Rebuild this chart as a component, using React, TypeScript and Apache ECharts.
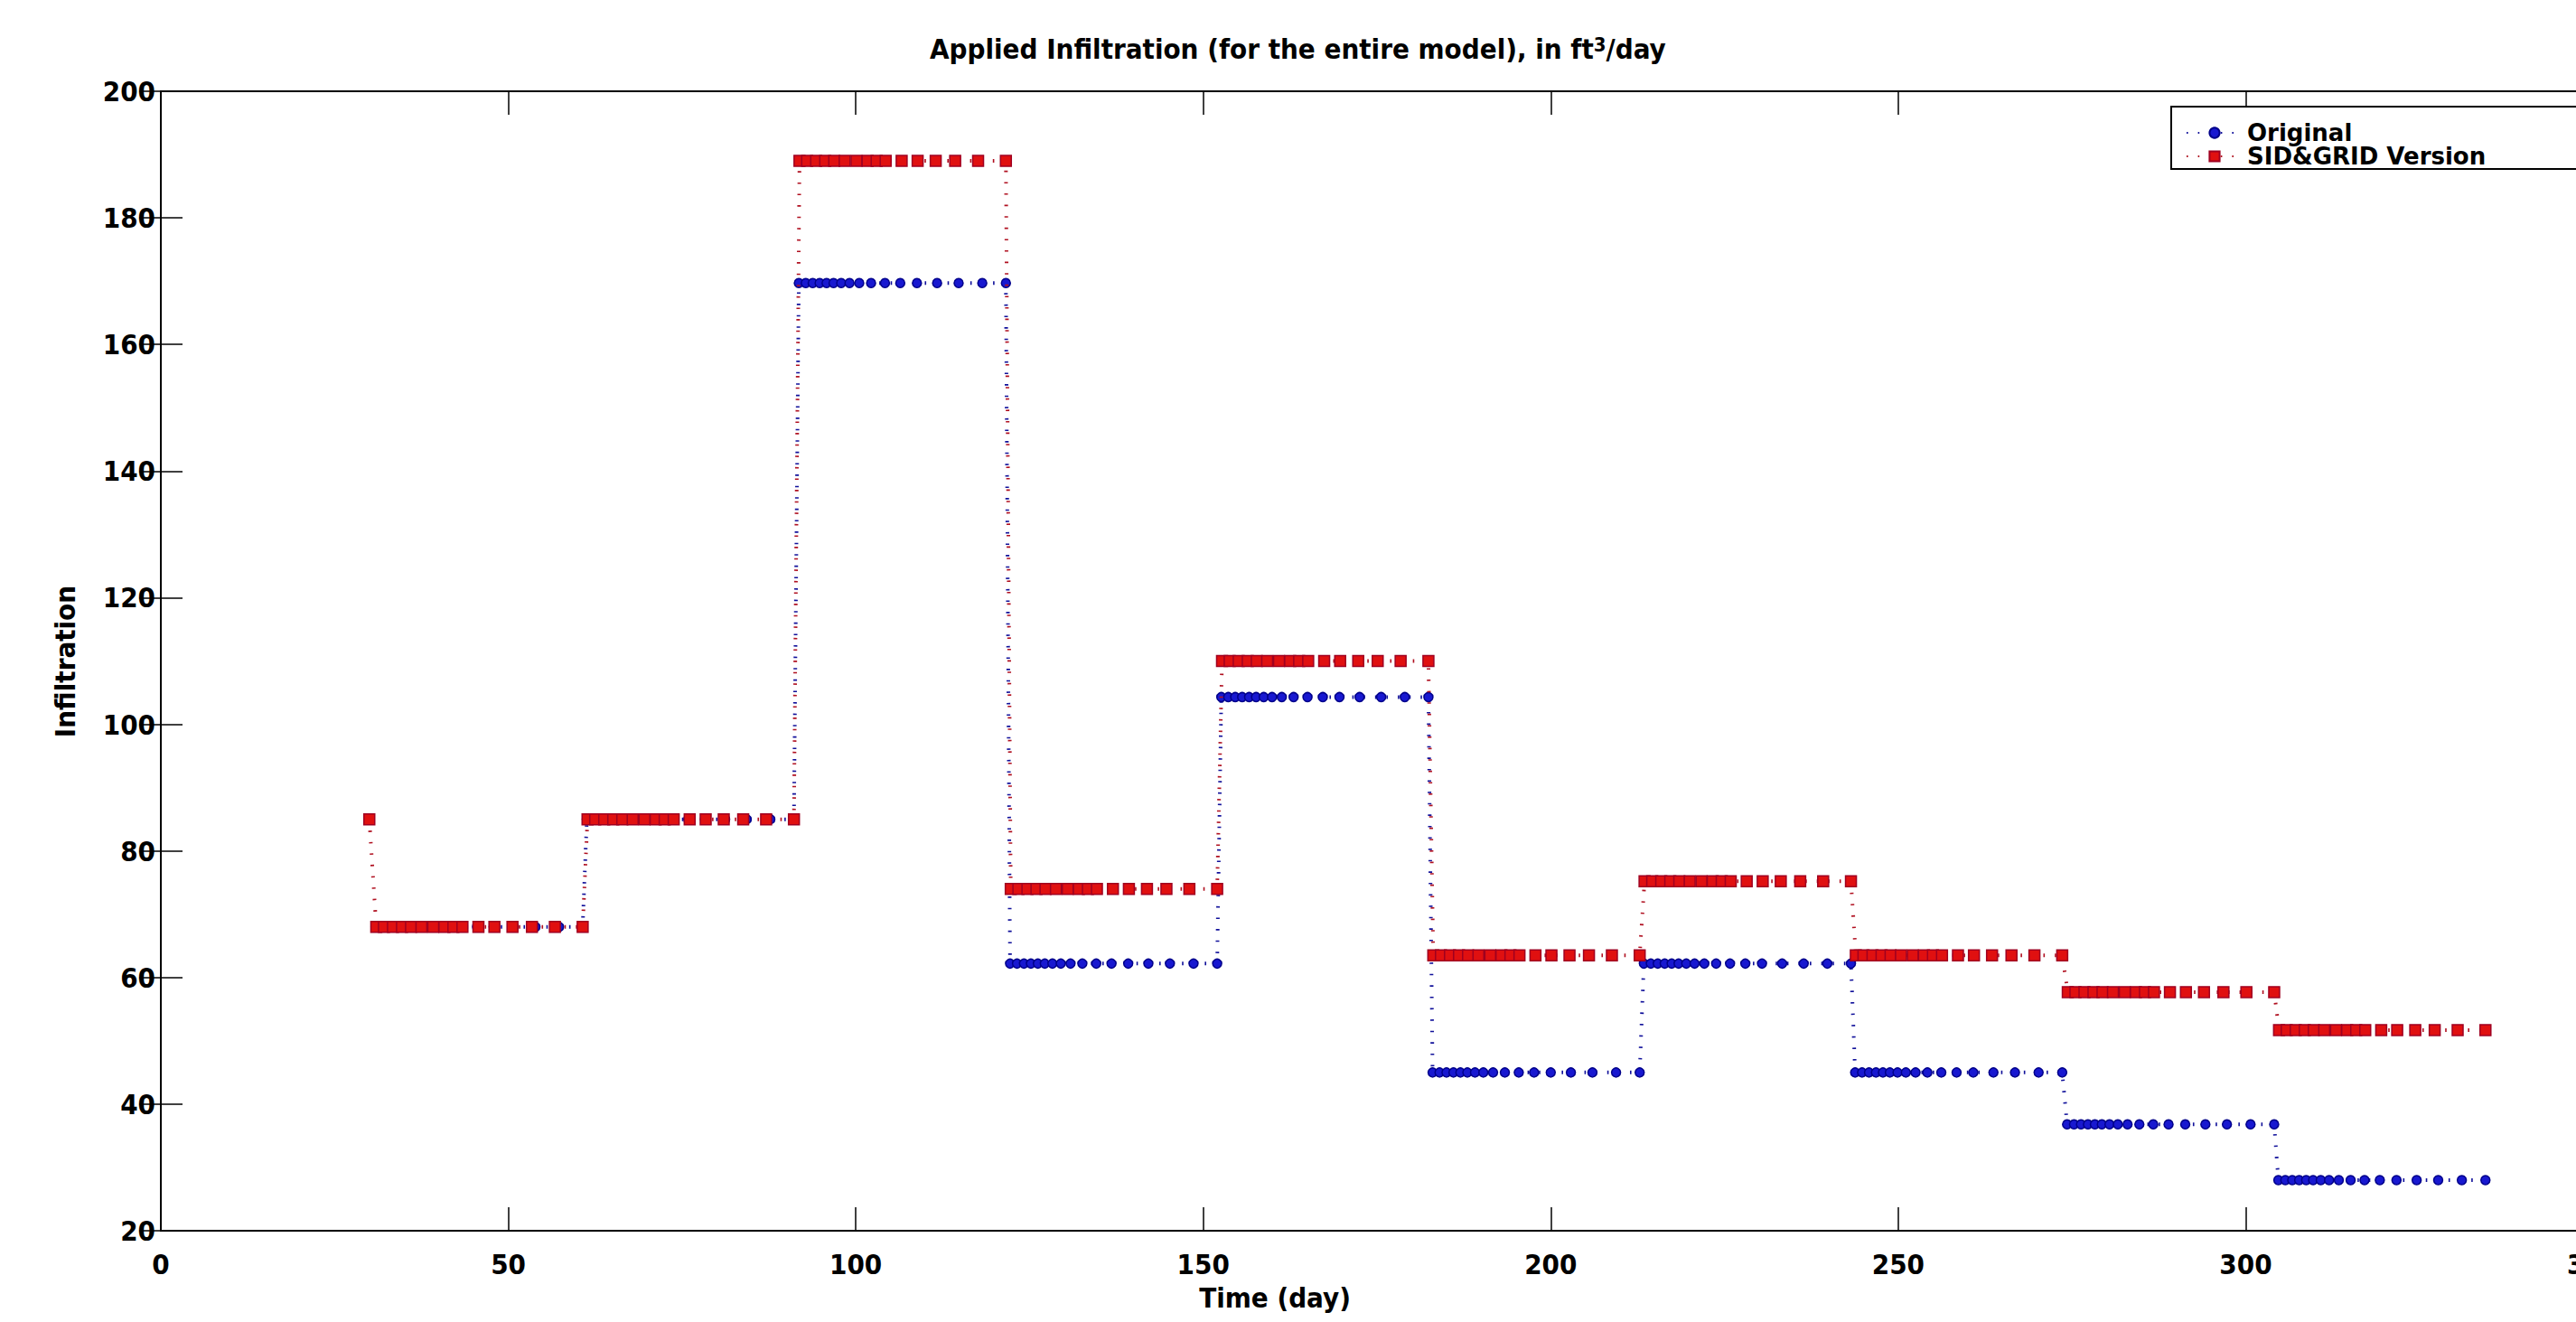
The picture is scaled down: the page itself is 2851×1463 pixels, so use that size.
import React, { useEffect, useRef } from "react";
import * as echarts from "echarts";

// Stress-period start times (days)
const periodStarts = [30.4, 60.8, 91.3, 121.7, 152.1, 182.5, 212.9, 243.3, 273.8, 304.2];
// Time-step offsets (days after each period start)
const originalStepOffsets = [0.5, 1.5, 2.5, 3.5, 4.5, 5.5, 6.6, 7.8, 9.2, 10.9, 12.9, 15.1, 17.5, 20.4, 23.5, 26.9, 30.3];
const sidGridStepOffsets = [0.6, 1.7, 3.0, 4.3, 5.6, 7.1, 8.8, 10.4, 11.7, 13.0, 15.3, 17.6, 20.2, 23.0, 26.3, 30.3];
// Infiltration per stress period (ft^3/day)
const originalValues = [68, 85, 169.7, 62.2, 104.3, 45, 62.2, 45, 36.8, 28];
const sidGridValues = [68, 85, 189, 74, 110, 63.5, 75.2, 63.5, 57.7, 51.7];
const sidGridInitialTime = 30.0;
const sidGridInitialValue = 85;

const xTickValues = [0, 50, 100, 150, 200, 250, 300, 350];
const yTickValues = [20, 40, 60, 80, 100, 120, 140, 160, 180, 200];

const FONT = "'Liberation Sans Narrow', 'DejaVu Sans Condensed', 'Liberation Sans', sans-serif";
const LEGEND_FONT = "'DejaVu Sans', 'Liberation Sans', sans-serif";

function buildSeries(starts: number[], offsets: number[], values: number[]) {
  const pts: number[][] = [];
  starts.forEach((s, k) => {
    offsets.forEach((o) => pts.push([s + o, values[k]]));
  });
  return pts;
}

export default function App() {
  const ref = useRef<HTMLDivElement>(null);
  useEffect(() => {
    if (!ref.current) return;
    const chart = echarts.init(ref.current, null, { renderer: "svg" });
    const originalData = buildSeries(periodStarts, originalStepOffsets, originalValues);
    const sidData = [[sidGridInitialTime, sidGridInitialValue], ...buildSeries(periodStarts, sidGridStepOffsets, sidGridValues)];

    const axisLine = { show: true, lineStyle: { color: "#000", width: 2 } };
    const tickStyle = { color: "#000", width: 1.5 };
    chart.setOption({
      animation: false,
      backgroundColor: "#ffffff",
      textStyle: { fontFamily: FONT },
      title: {
        text: "Applied Infiltration (for the entire model), in ft{sup|3}/day",
        left: 1024,
        top: 33,
        textStyle: {
          fontFamily: FONT,
          fontSize: 31,
          fontWeight: "bold",
          color: "#000",
          rich: {
            sup: { fontFamily: FONT, fontSize: 22, fontWeight: "bold", color: "#000", verticalAlign: "top", lineHeight: 16, padding: [0, 0, 16, 0] },
          },
        },
      },
      grid: { left: 178, top: 101, width: 2692, height: 1261, containLabel: false, outerBoundsMode: "none" },
      xAxis: [
        {
          type: "value",
          position: "bottom",
          min: xTickValues[0],
          max: xTickValues[xTickValues.length - 1],
          interval: 50,
          axisLine,
          axisTick: { show: true, inside: true, length: 26, lineStyle: tickStyle },
          axisLabel: { show: true, color: "#000", fontFamily: FONT, fontSize: 31, fontWeight: "bold", margin: 21 },
          splitLine: { show: false },
        },
        {
          type: "value",
          position: "top",
          min: xTickValues[0],
          max: xTickValues[xTickValues.length - 1],
          interval: 50,
          axisLine,
          axisTick: { show: true, inside: true, length: 26, lineStyle: tickStyle },
          axisLabel: { show: false },
          splitLine: { show: false },
        },
      ],
      yAxis: [
        {
          type: "value",
          position: "left",
          min: yTickValues[0],
          max: yTickValues[yTickValues.length - 1],
          interval: 20,
          axisLine,
          axisTick: { show: true, inside: true, length: 24, lineStyle: tickStyle },
          axisLabel: { show: true, color: "#000", fontFamily: FONT, fontSize: 31, fontWeight: "bold", margin: 6 },
          splitLine: { show: false },
        },
        {
          type: "value",
          position: "right",
          min: yTickValues[0],
          max: yTickValues[yTickValues.length - 1],
          interval: 20,
          axisLine,
          axisTick: { show: true, inside: true, length: 24, lineStyle: tickStyle },
          axisLabel: { show: false },
          splitLine: { show: false },
        },
      ],
      legend: {
        left: 2414,
        top: 129,
        orient: "vertical",
        itemGap: 0,
        itemWidth: 62,
        itemHeight: 14,
        itemTextGap: 10,
        textStyle: { fontFamily: LEGEND_FONT, fontSize: 26, fontWeight: "bold", color: "#000", lineHeight: 26 },
        data: ["Original", "SID&GRID Version"],
      },
      graphic: [
        {
          type: "rect",
          z: 1,
          shape: { x: 2403, y: 118, width: 600, height: 69 },
          style: { fill: "#fff", stroke: "#000", lineWidth: 2 },
        },
        {
          type: "text",
          x: 72,
          y: 732,
          rotation: Math.PI / 2,
          style: { text: "Infiltration", fontFamily: FONT, fontSize: 31, fontWeight: "bold", fill: "#000", align: "center", verticalAlign: "middle" },
        },
        {
          type: "text",
          x: 1411,
          y: 1436,
          style: { text: "Time (day)", fontFamily: FONT, fontSize: 31, fontWeight: "bold", fill: "#000", align: "center", verticalAlign: "middle" },
        },
      ],
      series: [
        {
          name: "Original",
          type: "line",
          data: originalData,
          symbol: "circle",
          symbolSize: 10,
          itemStyle: { color: "#1818d0", borderColor: "#00008a", borderWidth: 1.5 },
          lineStyle: { color: "#10109a", width: 4, type: [1.6, 11] },
          z: 3,
        },
        {
          name: "SID&GRID Version",
          type: "line",
          data: sidData,
          symbol: "rect",
          symbolSize: 12,
          itemStyle: { color: "#e01010", borderColor: "#a00020", borderWidth: 1.5 },
          lineStyle: { color: "#b01020", width: 4, type: [1.6, 11] },
          z: 4,
        },
      ],
    });
    return () => chart.dispose();
  }, []);
  return <div ref={ref} style={{ position: "absolute", left: 0, top: 0, width: 2851, height: 1463 }} />;
}
